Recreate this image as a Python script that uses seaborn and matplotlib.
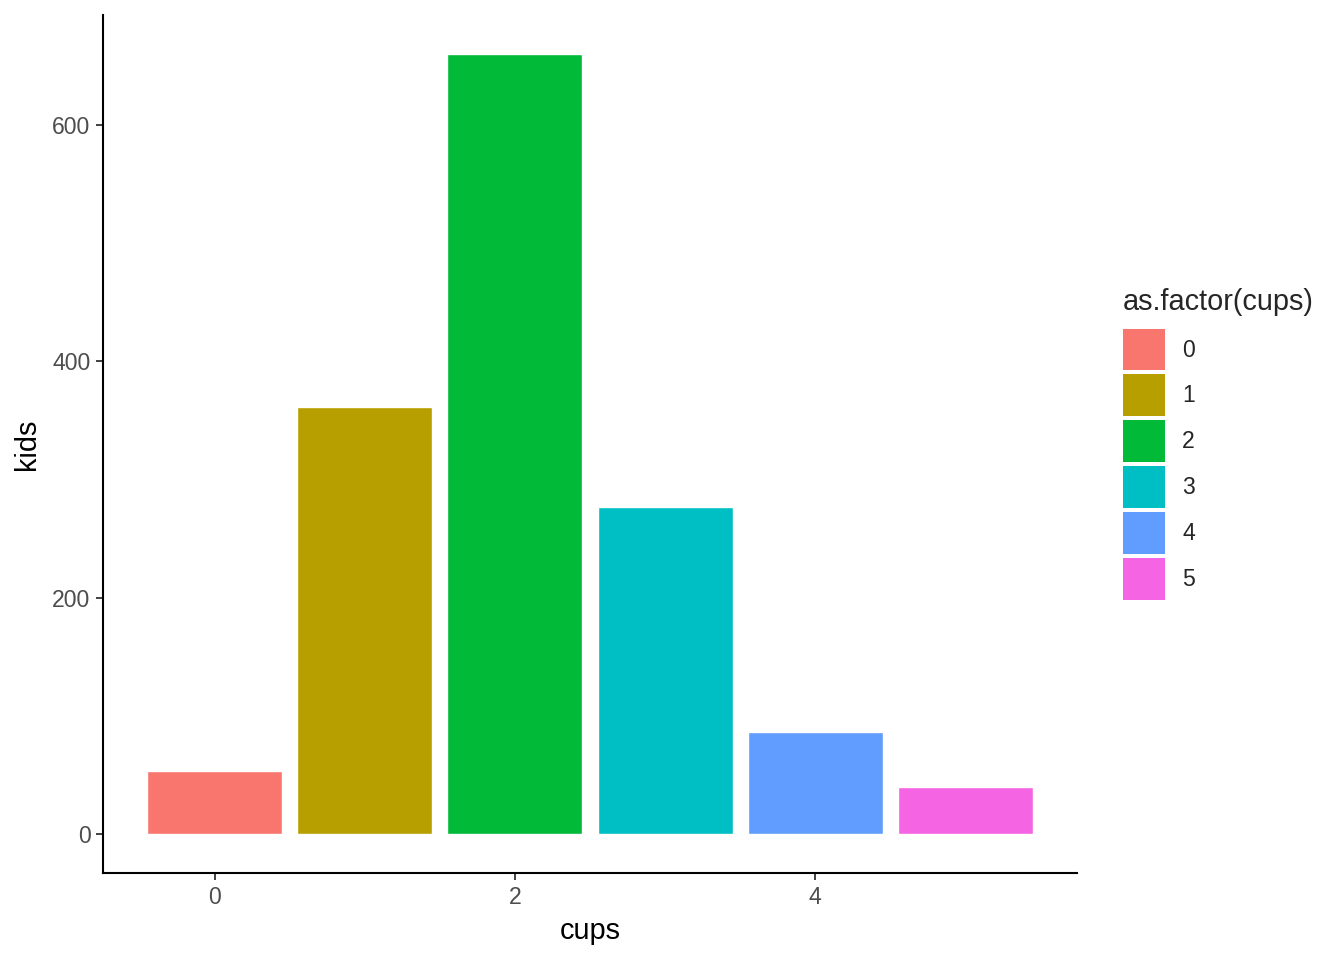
import matplotlib
matplotlib.use("Agg")
import matplotlib.pyplot as plt
import seaborn as sns
import pandas as pd
from matplotlib.patches import Patch

cups = [0, 1, 2, 3, 4, 5]
kids = [53, 361, 660, 277, 86, 40]
palette = ["#F8766D", "#B79F00", "#00BA38", "#00BFC4", "#619CFF", "#F564E3"]
xticks = [0, 2, 4]
yticks = [0, 200, 400, 600]

df = pd.DataFrame({"cups": cups, "kids": kids})
df["cat"] = df["cups"].astype(str)

sns.set_style("white")
plt.rcParams["font.family"] = ["Liberation Sans", "DejaVu Sans"]

fig = plt.figure(figsize=(13.44, 9.6), dpi=100)
ax = fig.add_axes([103/1344, 87/960, (1077-103)/1344, (873-15)/960])

sns.barplot(data=df, x="cat", y="kids", hue="cat", palette=palette,
            width=0.9, dodge=False, legend=False, ax=ax, saturation=1)

ax.set_xlim(-0.745, 5.745)
ax.set_ylim(-33, 693)
ax.set_xticks(xticks)
ax.set_xticklabels([str(t) for t in xticks])
ax.set_yticks(yticks)
ax.set_yticklabels([str(t) for t in yticks])
ax.tick_params(axis="both", which="both", length=5, width=1.3, color="#333333",
               labelcolor="#4D4D4D", labelsize=16.6, pad=4, direction="out",
               bottom=True, left=True)
for s in ["top", "right"]:
    ax.spines[s].set_visible(False)
for s in ["left", "bottom"]:
    ax.spines[s].set_color("black")
    ax.spines[s].set_linewidth(1.5)
ax.set_xlabel("cups", fontsize=20.8, color="black", labelpad=6)
ax.set_ylabel("kids", fontsize=20.8, color="black", labelpad=8)

handles = [Patch(facecolor=c, edgecolor="none") for c in palette]
leg = fig.legend(handles, [str(c) for c in cups], title="as.factor(cups)",
                 loc="upper left", bbox_to_anchor=(1123/1344, 1 - 288/960),
                 frameon=False, fontsize=16.6, title_fontsize=20.8,
                 handlelength=1.82, handleheight=2.425, labelspacing=0.17,
                 handletextpad=0.74, borderpad=0, borderaxespad=0,
                 alignment="left")
leg._legend_box.sep = 9

fig.savefig("out.png", dpi=100)
